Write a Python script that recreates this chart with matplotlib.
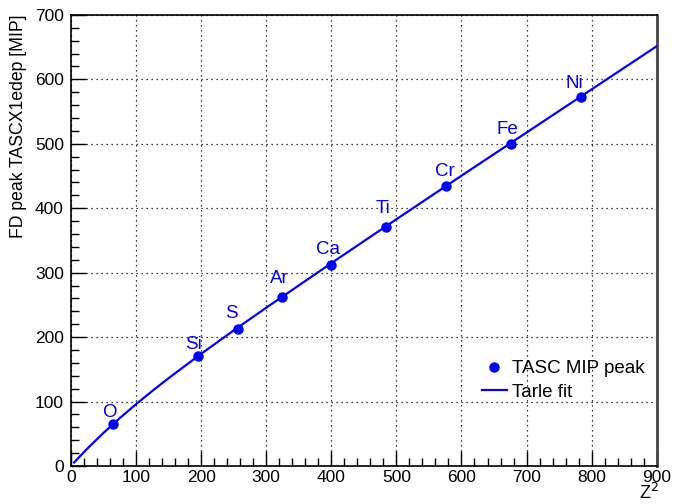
import matplotlib
matplotlib.use("Agg")
import matplotlib.pyplot as plt
from matplotlib.ticker import MultipleLocator

plt.rcParams['font.family'] = ['Liberation Sans', 'DejaVu Sans']

# TASC MIP peak per element vs Z^2
elements = ["O", "Si", "S", "Ar", "Ca", "Ti", "Cr", "Fe", "Ni"]
z2 = [64, 196, 256, 324, 400, 484, 576, 676, 784]
peak = [64.5, 170, 213, 262, 312, 371, 434, 499, 572]

# Tarle fit curve
fit_x = [5, 25, 50, 75, 100, 125, 150, 200, 250, 300, 400, 500,
         600, 700, 800, 900]
fit_y = [5.5, 26.7, 51.3, 74.2, 95.8, 116.4, 136.2, 174.0, 210.3, 245.6,
         314.7, 382.9, 450.5, 517.5, 584.5, 651.5]

# label offsets from each point (pixels): centre x, baseline y
label_dx = [-2.7, -5, -6, -2.3, -3, -3, -1, -4, -7]
label_dy = [7.3, 7.7, 10.7, 14, 11.3, 14.3, 10.7, 10, 9.4]

fig = plt.figure(figsize=(6.75, 5.04), dpi=100)
ax = fig.add_axes([0.105, 0.0754, 0.868, 0.895])

blue = (0, 0, 1)
ax.plot(fit_x, fit_y, color=blue, lw=1.6, label="Tarle fit", zorder=3)
ax.plot(z2, peak, 'o', color=blue, ms=6.5, label="TASC MIP peak", zorder=4)

px2pt = 72 / 100
for name, x, y, dx, dy in zip(elements, z2, peak, label_dx, label_dy):
    ax.annotate(name, (x, y), xytext=(dx * px2pt, dy * px2pt), textcoords='offset points',
                ha='center', va='baseline', color=blue, fontsize=13.5)

ax.set_xlim(0, 900)
ax.set_ylim(0, 700)
ax.xaxis.set_major_locator(MultipleLocator(100))
ax.xaxis.set_minor_locator(MultipleLocator(20))
ax.yaxis.set_major_locator(MultipleLocator(100))
ax.yaxis.set_minor_locator(MultipleLocator(20))
ax.tick_params(which='both', direction='in', labelsize=12.5, top=False, right=False)
ax.tick_params(which='major', length=11, width=1)
ax.tick_params(which='minor', length=6, width=1)
ax.tick_params(axis='x', pad=3)
ax.tick_params(axis='y', pad=5)
ax.grid(True, which='major', ls=(0, (1, 3)), color='black', lw=0.9)
for s in ax.spines.values():
    s.set_linewidth(1.2)
ax.spines['right'].set_color('#444444')
ax.spines['right'].set_linewidth(2)

fig.text(659 / 675, 1 - 499 / 504, "Z$^2$", ha='right', va='baseline', fontsize=13)
ax.set_ylabel("FD peak TASCX1edep [MIP]", fontsize=12.7, loc='top', labelpad=6)

handles, labels = ax.get_legend_handles_labels()
ax.legend(handles[::-1], labels[::-1], loc='lower right', bbox_to_anchor=(0.992, 0.128),
          frameon=False, fontsize=13.5, handlelength=1.33, handletextpad=0.27,
          borderaxespad=0, labelspacing=0.35)

fig.savefig("out.png", dpi=100)
